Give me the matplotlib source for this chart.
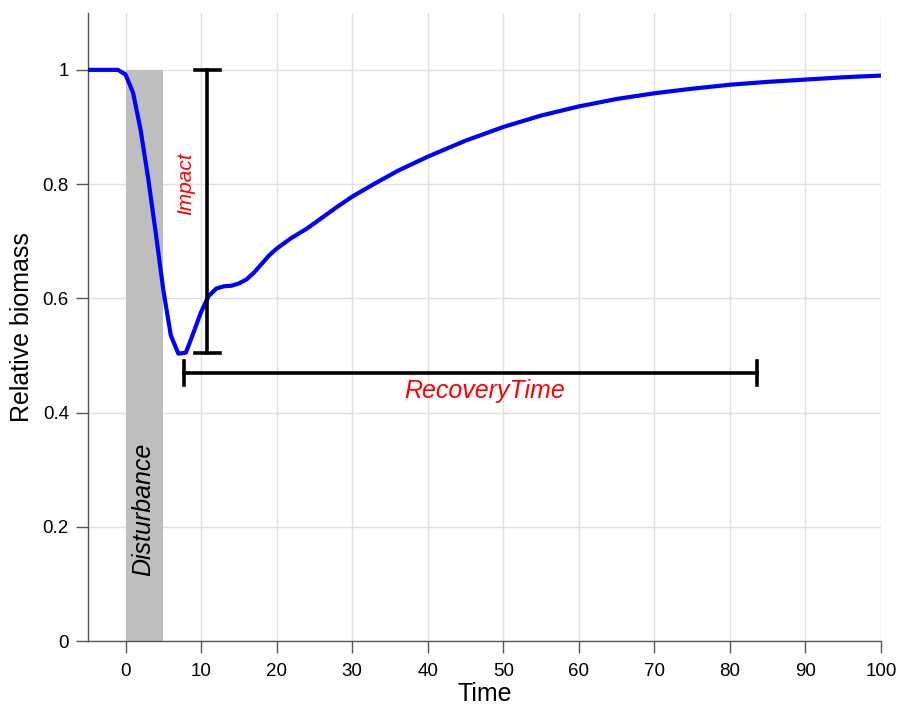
import matplotlib
matplotlib.use("Agg")
from matplotlib import pyplot as plt
import numpy as np

plt.rcParams['font.family'] = ['Liberation Sans', 'DejaVu Sans']

# biomass trajectory
time = [-5, -4, -3, -2, -1, 0, 1, 2, 3, 4, 5, 6, 7, 8, 9, 10, 11, 12, 13, 14,
        15, 16, 17, 18, 19, 20, 22, 24, 26, 28, 30, 33, 36, 40, 45, 50, 55,
        60, 65, 70, 75, 80, 85, 90, 95, 100]
biomass = [1.0, 1.0, 1.0, 1.0, 1.0, 0.992, 0.96, 0.895, 0.81, 0.715, 0.615,
           0.535, 0.503, 0.505, 0.54, 0.576, 0.604, 0.617, 0.621, 0.622,
           0.626, 0.633, 0.645, 0.66, 0.675, 0.687, 0.706, 0.722, 0.741,
           0.760, 0.778, 0.801, 0.823, 0.848, 0.876, 0.900, 0.920, 0.936,
           0.949, 0.959, 0.967, 0.974, 0.979, 0.983, 0.987, 0.990]

disturbance = (0, 5)
impact_x = 10.85
impact_range = (0.504, 1.0)
recovery_y = 0.47
recovery_range = (7.7, 83.6)

xticks = np.arange(0, 101, 10)
yticks = [0, 0.2, 0.4, 0.6, 0.8, 1.0]
ylabels = ['0', '0.2', '0.4', '0.6', '0.8', '1']

fig = plt.figure(figsize=(8.97, 7.08), dpi=100)
ax = fig.add_axes([0.0978, 0.0946, 0.8844, 0.8874])

ax.set_xlim(-5, 100)
ax.set_ylim(0, 1.1)

for xv in xticks:
    ax.plot([xv, xv], [0, 1.1], color='#e0e0e0', lw=1.0, zorder=0)
for yv in yticks:
    ax.plot([-5, 100], [yv, yv], color='#e0e0e0', lw=1.0, zorder=0)

ax.fill_between(disturbance, 0, 1, color='#bebebe', lw=0, zorder=1)

ax.plot(time, biomass, color='#0000ff', lw=3.0, zorder=3, solid_joinstyle='round')

# impact bar
ax.plot([impact_x, impact_x], impact_range, color='black', lw=2.6, zorder=4)
for yv in impact_range:
    ax.plot([impact_x - 1.6, impact_x + 1.6], [yv, yv], color='black', lw=2.6, zorder=4)

# recovery bar
ax.plot(recovery_range, [recovery_y, recovery_y], color='black', lw=2.6, zorder=4)
for xv in recovery_range:
    ax.plot([xv, xv], [recovery_y - 0.021, recovery_y + 0.021], color='black', lw=2.6, zorder=4)

ax.text(2.3, 0.23, 'Disturbance', rotation=90, ha='center', va='center',
        fontsize=18, style='italic', color='black', zorder=5)
ax.text(7.9, 0.80, 'Impact', rotation=90, ha='center', va='center',
        fontsize=15, style='italic', color='red', zorder=5)
ax.text(47.5, 0.437, 'RecoveryTime', ha='center', va='center',
        fontsize=18, style='italic', color='red', zorder=5)

for s in ['top', 'right']:
    ax.spines[s].set_visible(False)
for s in ['left', 'bottom']:
    ax.spines[s].set_color('#555555')
    ax.spines[s].set_linewidth(1.0)

ax.set_xticks(xticks)
ax.set_yticks(yticks)
ax.set_yticklabels(ylabels)
ax.tick_params(direction='out', length=8.5, width=1.0, color='#555555',
               labelsize=13.5, pad=5)
ax.tick_params(axis='x', pad=7)

ax.set_xlabel('Time', fontsize=18, labelpad=2)
ax.set_ylabel('Relative biomass', fontsize=18, labelpad=6)

fig.savefig('out.png', dpi=100)
